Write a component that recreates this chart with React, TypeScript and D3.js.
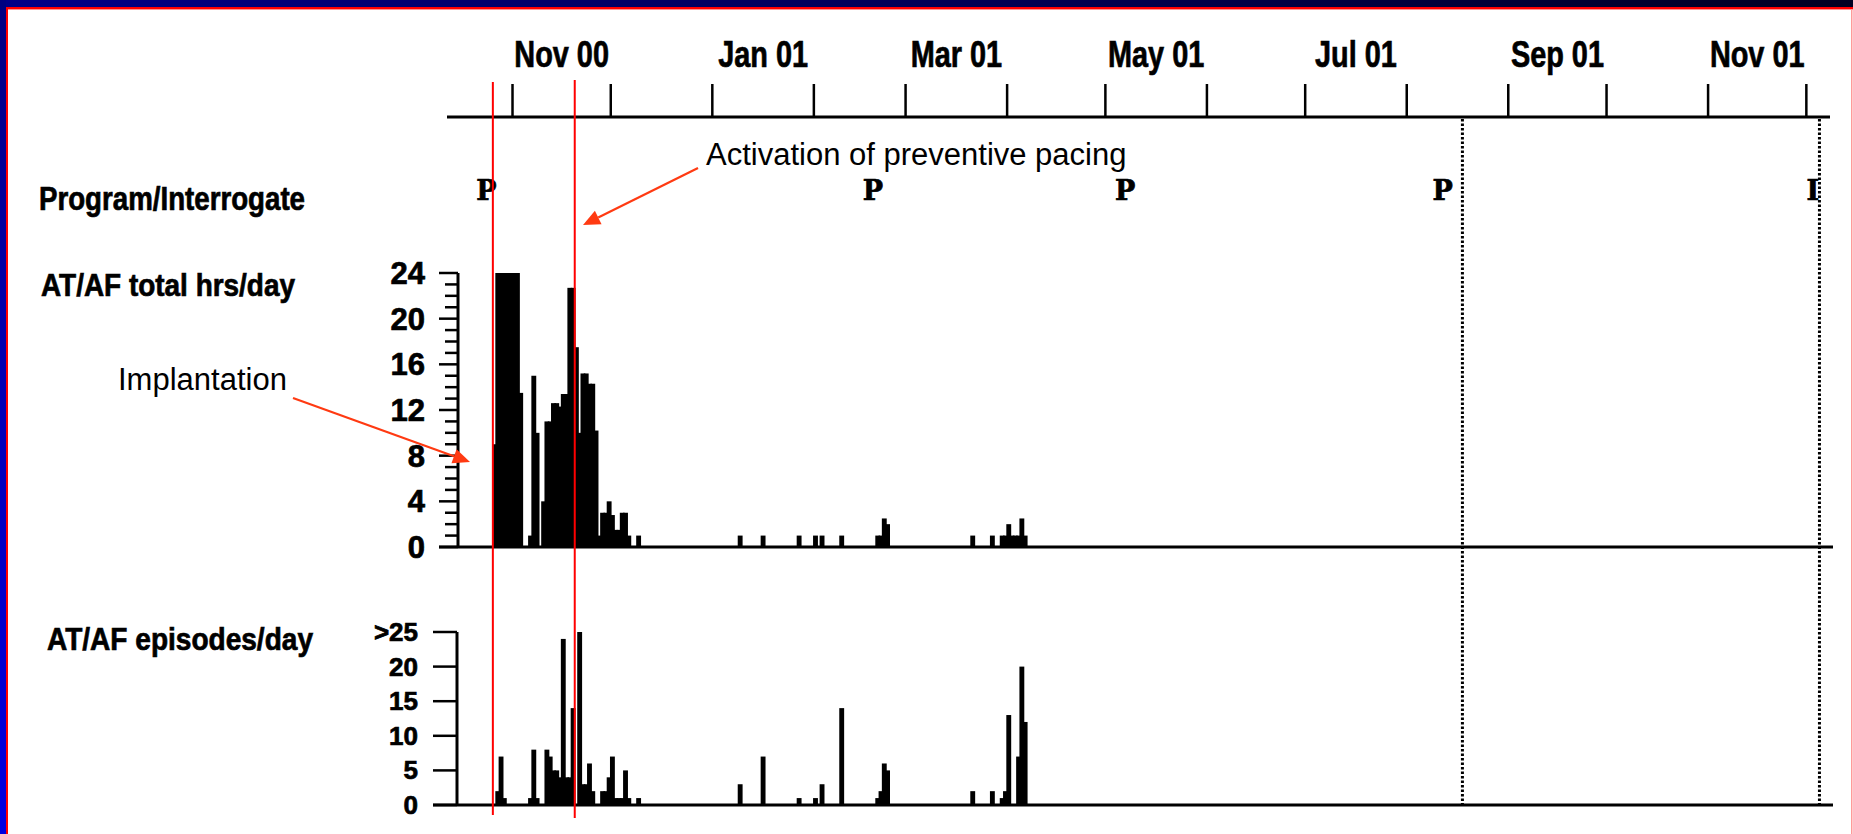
import React from "react";
import * as d3 from "d3";

const W = 1853;
const H = 834;

// ---------- data ----------
const monthLabels = ["Nov 00", "Jan 01", "Mar 01", "May 01", "Jul 01", "Sep 01", "Nov 01"];
const hrsTicks = [0, 4, 8, 12, 16, 20, 24];
const episodeTicks = [0, 5, 10, 15, 20, 25];
const episodeTickLabels = ["0", "5", "10", "15", "20", ">25"];

// [day offset from 1 Nov 2000, AT/AF hours that day]
const hoursPerDay: [number, number][] = [
  [-6, 9], [-5, 24], [-4, 24], [-3, 24], [-2, 24], [-1, 24], [0, 24], [1, 24], [2, 13.5],
  [5, 1], [6, 15], [7, 10],
  [9, 4], [10, 11], [11, 11], [12, 12.6], [13, 12.6], [14, 12.3], [15, 13.4], [16, 13.4],
  [17, 22.7], [18, 22.7], [19, 17.5], [20, 10], [21, 15.2], [22, 15.2], [23, 14.3], [24, 14.3],
  [25, 10.2], [26, 1], [27, 3], [28, 3], [29, 4], [30, 2.8], [31, 1.5], [32, 1.5], [33, 3],
  [34, 3], [35, 1], [38, 1],
  [69, 1], [76, 1], [87, 1], [92, 1], [94, 1], [100, 1], [111, 1], [112, 1], [113, 2.5],
  [114, 2], [140, 1], [146, 1], [149, 1], [150, 1], [151, 2], [152, 1], [153, 1], [154, 1],
  [155, 2.5], [156, 1],
];

// [day offset from 1 Nov 2000, AT/AF episodes that day]
const episodesPerDay: [number, number][] = [
  [-5, 2], [-4, 7], [-3, 1], [5, 1], [6, 8], [7, 1], [10, 8], [11, 7], [12, 5], [13, 5],
  [14, 4], [15, 24], [16, 4], [17, 4], [18, 14], [20, 25], [21, 3], [22, 3], [23, 6], [24, 2],
  [27, 2], [28, 2], [29, 4], [30, 7], [31, 1], [32, 1], [33, 1], [34, 5], [35, 1], [38, 1],
  [69, 3], [76, 7], [87, 1], [92, 1], [94, 3], [100, 14], [111, 1], [112, 2], [113, 6],
  [114, 5], [140, 2], [146, 2], [149, 1], [150, 2], [151, 13], [154, 7], [155, 20], [156, 12],
];

const programDates = ["2000-10-24", "2001-02-19", "2001-05-07", "2001-08-12", "2001-12-03"];
const programCodes = ["P", "P", "P", "P", "I"];
const followUpDates = ["2001-08-18", "2001-12-05"];
const implantDate = "2000-10-26";
const activationDate = "2000-11-20";

// ---------- helpers ----------
const parse = d3.utcParse("%Y-%m-%d");
const DAY0 = Date.UTC(2000, 10, 1);
const dayDate = (d: number) => new Date(DAY0 + d * 86400000);

const x = d3
  .scaleUtc()
  .domain([new Date(Date.UTC(2000, 9, 12)), new Date(Date.UTC(2001, 11, 7))])
  .range([447, 1826]);

const yHrs = d3.scaleLinear().domain([0, 24]).range([547, 273]);
const yEp = d3.scaleLinear().domain([0, 25]).range([805, 632]);

const BOLD = "'Liberation Sans', Arial, Helvetica, sans-serif";
const RED = "#ff0000";
const ORANGE = "#ff3a12";

function Arrow({ x1, y1, x2, y2 }: { x1: number; y1: number; x2: number; y2: number }) {
  const a = Math.atan2(y2 - y1, x2 - x1);
  const L = 17;
  const hw = 7.5;
  const bx = x2 - L * Math.cos(a);
  const by = y2 - L * Math.sin(a);
  const px = -Math.sin(a) * hw;
  const py = Math.cos(a) * hw;
  return (
    <g>
      <line x1={x1} y1={y1} x2={bx} y2={by} stroke={ORANGE} strokeWidth={2.2} />
      <polygon points={`${x2},${y2} ${bx + px},${by + py} ${bx - px},${by - py}`} fill={ORANGE} />
    </g>
  );
}

export default function App() {
  const monthStarts = d3.utcMonth.range(new Date(Date.UTC(2000, 10, 1)), new Date(Date.UTC(2001, 11, 2)));
  const labelMonths = monthStarts.filter((_, i) => i % 2 === 0).slice(0, monthLabels.length);

  const bar = (d: number) => {
    const x0 = x(dayDate(d));
    const x1 = x(dayDate(d + 1));
    return { x: x0 - 0.8, w: x1 - x0 + 1.6 };
  };

  const xImpl = x(parse(implantDate)!);
  const xAct = x(parse(activationDate)!);

  const heavy = { stroke: "#000", strokeWidth: 0.7, paintOrder: "stroke" as const };

  return (
    <svg
      width={W}
      height={H}
      style={{ position: "absolute", left: 0, top: 0, background: "#ffffff" }}
    >
      <defs>
        <linearGradient id="topBand" x1="0" y1="0" x2="1" y2="0">
          <stop offset="0" stopColor="#000088" />
          <stop offset="0.25" stopColor="#00006e" />
          <stop offset="0.6" stopColor="#00004e" />
          <stop offset="1" stopColor="#000022" />
        </linearGradient>
        <linearGradient id="leftBand" x1="0" y1="0" x2="0" y2="1">
          <stop offset="0" stopColor="#000080" />
          <stop offset="0.5" stopColor="#0000b8" />
          <stop offset="1" stopColor="#0000e0" />
        </linearGradient>
      </defs>

      <rect x={0} y={0} width={W} height={H} fill="#ffffff" />

      {/* slide frame */}
      <rect x={0} y={0} width={W} height={7} fill="url(#topBand)" />
      <rect x={0} y={0} width={6} height={H} fill="url(#leftBand)" />
      <rect x={6} y={7} width={W - 6} height={2} fill={RED} />
      <rect x={6} y={9} width={W - 6} height={1} fill="#ff9090" />
      <rect x={6} y={7} width={2} height={H - 7} fill={RED} />
      <rect x={W - 2} y={9} width={1.5} height={H - 9} fill="#ff9a9a" />

      {/* top time axis */}
      <line x1={447} y1={117} x2={1830} y2={117} stroke="#000" strokeWidth={3} />
      {monthStarts.map((m, i) => (
        <line key={"mt" + i} x1={x(m)} y1={84} x2={x(m)} y2={117} stroke="#000" strokeWidth={2.5} />
      ))}
      {labelMonths.map((m, i) => {
        const cx = x(new Date((+m + +d3.utcMonth.offset(m, 1)) / 2));
        return (
          <text
            key={"ml" + i}
            transform={`translate(${cx},67) scale(0.78,1)`}
            textAnchor="middle"
            fontFamily={BOLD}
            fontWeight={700}
            fontSize={37}
            fill="#000"
            {...heavy}
          >
            {monthLabels[i]}
          </text>
        );
      })}

      {/* row labels */}
      <text x={39} y={210} fontFamily={BOLD} fontWeight={700} fontSize={33} textLength={266} lengthAdjust="spacingAndGlyphs" {...heavy}>
        Program/Interrogate
      </text>
      <text x={41} y={296} fontFamily={BOLD} fontWeight={700} fontSize={32} textLength={254} lengthAdjust="spacingAndGlyphs" {...heavy}>
        AT/AF total hrs/day
      </text>
      <text x={47} y={650} fontFamily={BOLD} fontWeight={700} fontSize={32} textLength={266} lengthAdjust="spacingAndGlyphs" {...heavy}>
        AT/AF episodes/day
      </text>

      {/* program / interrogate markers */}
      {programDates.map((d, i) => (
        <text
          key={"p" + i}
          x={x(parse(d)!)}
          y={200}
          textAnchor="middle"
          fontFamily="'DejaVu Serif', 'Liberation Serif', serif"
          fontWeight={700}
          fontSize={27}
          fill="#000"
          {...heavy}
        >
          {programCodes[i]}
        </text>
      ))}

      {/* follow-up dotted lines */}
      {followUpDates.map((d, i) => (
        <line
          key={"f" + i}
          x1={x(parse(d)!)}
          y1={119}
          x2={x(parse(d)!)}
          y2={805}
          stroke="#000"
          strokeWidth={3}
          strokeDasharray="2.5 2"
        />
      ))}

      {/* hours per day panel */}
      {hoursPerDay.map(([d, v], i) => {
        const b = bar(d);
        return <rect key={"h" + i} x={b.x} y={yHrs(v)} width={b.w} height={yHrs(0) - yHrs(v)} fill="#000" />;
      })}
      <line x1={458} y1={yHrs(24)} x2={458} y2={yHrs(0)} stroke="#000" strokeWidth={3} />
      {d3.range(0, 25).map((t) => (
        <line
          key={"hm" + t}
          x1={hrsTicks.includes(t) ? 439 : 445}
          y1={yHrs(t)}
          x2={458}
          y2={yHrs(t)}
          stroke="#000"
          strokeWidth={2.5}
        />
      ))}
      {hrsTicks.map((t) => (
        <text
          key={"hl" + t}
          x={425}
          y={yHrs(t) + 11}
          textAnchor="end"
          fontFamily={BOLD}
          fontWeight={700}
          fontSize={31}
          fill="#000"
          {...heavy}
        >
          {t}
        </text>
      ))}
      <line x1={439} y1={yHrs(0)} x2={1833} y2={yHrs(0)} stroke="#000" strokeWidth={3} />

      {/* episodes per day panel */}
      {episodesPerDay.map(([d, v], i) => {
        const b = bar(d);
        return <rect key={"e" + i} x={b.x} y={yEp(v)} width={b.w} height={yEp(0) - yEp(v)} fill="#000" />;
      })}
      <line x1={457} y1={yEp(25)} x2={457} y2={yEp(0)} stroke="#000" strokeWidth={3} />
      {episodeTicks.map((t) => (
        <line key={"et" + t} x1={433} y1={yEp(t)} x2={457} y2={yEp(t)} stroke="#000" strokeWidth={2.5} />
      ))}
      {episodeTicks.map((t, i) => (
        <text
          key={"el" + t}
          x={418}
          y={yEp(t) + 9}
          textAnchor="end"
          fontFamily={BOLD}
          fontWeight={700}
          fontSize={26}
          fill="#000"
          {...heavy}
        >
          {episodeTickLabels[i]}
        </text>
      ))}
      <line x1={433} y1={yEp(0)} x2={1833} y2={yEp(0)} stroke="#000" strokeWidth={3} />

      {/* event lines */}
      <line x1={xImpl} y1={82} x2={xImpl} y2={815} stroke={RED} strokeWidth={2} />
      <line x1={xAct} y1={80} x2={xAct} y2={818} stroke={RED} strokeWidth={2} />

      {/* annotations */}
      <text x={118} y={390} fontFamily="'Liberation Sans', Arial, sans-serif" fontSize={31} fill="#000">
        Implantation
      </text>
      <Arrow x1={293} y1={398} x2={470} y2={462} />
      <text x={706} y={165} fontFamily="'Liberation Sans', Arial, sans-serif" fontSize={31} fill="#000">
        Activation of preventive pacing
      </text>
      <Arrow x1={698} y1={168} x2={583} y2={225} />
    </svg>
  );
}
